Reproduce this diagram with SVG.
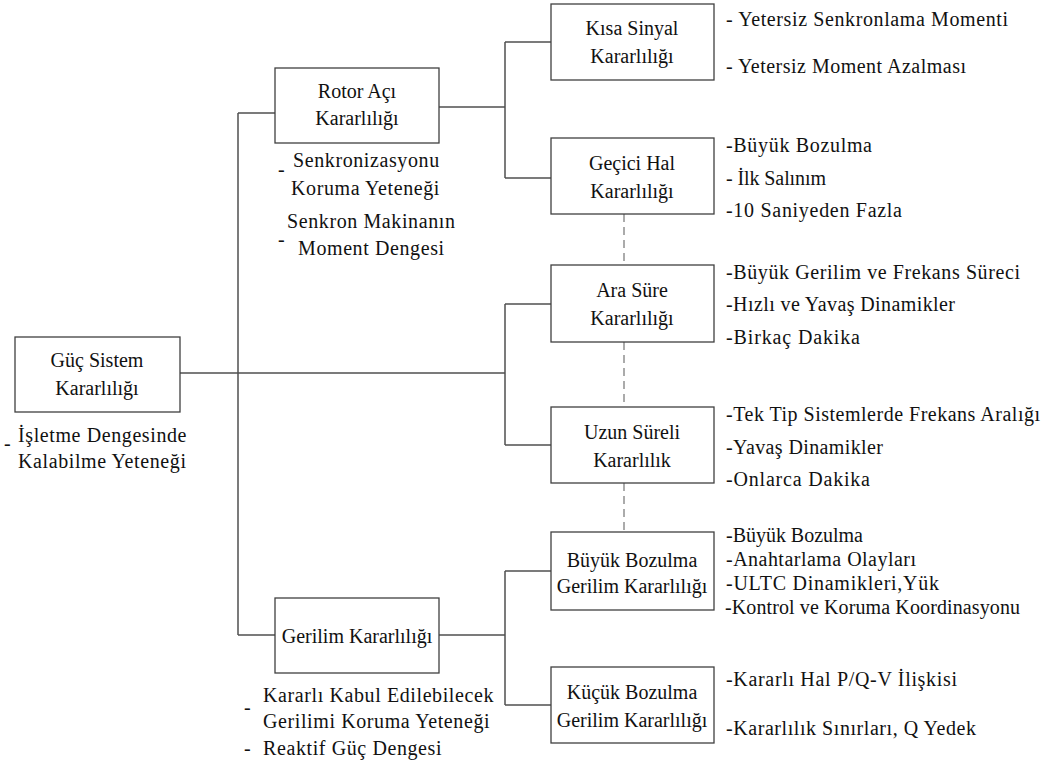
<svg xmlns="http://www.w3.org/2000/svg" width="1053" height="765" viewBox="0 0 1053 765">
<style>
.box{fill:#fff;stroke:#404040;stroke-width:1.3}
.ln{fill:none;stroke:#505050;stroke-width:1.5}
.dash{fill:none;stroke:#909090;stroke-width:1.5;stroke-dasharray:8 5}
text{font-family:"Liberation Serif","Times New Roman",serif;font-size:20px;fill:#111}
.c{text-anchor:middle}
.n{letter-spacing:0.6px}
</style>
<rect width="1053" height="765" fill="#fff"/>
<g id="connectors">
<path class="ln" d="M180 373H505M238 113V635M238 113H275M238 635H275"/>
<path class="ln" d="M439 107H505M505 42V178M505 42H551M505 178H551"/>
<path class="ln" d="M505 304V445M505 304H551M505 445H551"/>
<path class="ln" d="M439 635H505M505 571V705M505 571H551M505 705H551"/>
<path class="dash" d="M624 214V265M624 342V407M624 483V532"/>
</g>
<g id="guc">
<rect class="box" x="15" y="337" width="165" height="75"/>
<text class="c" x="97" y="367">Güç Sistem</text>
<text class="c" x="97" y="395">Kararlılığı</text>
<text x="4" y="450">-</text>
<text class="n" x="18" y="442">İşletme Dengesinde</text>
<text class="n" x="18" y="468">Kalabilme Yeteneği</text>
</g>
<g id="rotor">
<rect class="box" x="275" y="68" width="164" height="75"/>
<text class="c" x="357" y="98">Rotor Açı</text>
<text class="c" x="357" y="125">Kararlılığı</text>
<text x="278" y="176">-</text>
<text class="n" x="293" y="167">Senkronizasyonu</text>
<text class="n" x="291" y="195">Koruma Yeteneği</text>
<text x="278" y="246">-</text>
<text class="n" x="287" y="228">Senkron Makinanın</text>
<text class="n" x="298" y="255">Moment Dengesi</text>
</g>
<g id="gerilim">
<rect class="box" x="275" y="598" width="164" height="75"/>
<text class="c" x="357" y="643">Gerilim Kararlılığı</text>
<text x="244" y="714">-</text>
<text class="n" x="263" y="702">Kararlı Kabul Edilebilecek</text>
<text class="n" x="263" y="728">Gerilimi Koruma Yeteneği</text>
<text x="244" y="755">-</text>
<text class="n" x="263" y="755">Reaktif Güç Dengesi</text>
</g>
<g id="kisa">
<rect class="box" x="551" y="4" width="163" height="76"/>
<text class="c" x="632" y="35">Kısa Sinyal</text>
<text class="c" x="632" y="63">Kararlılığı</text>
<text x="726" y="26" textLength="282" lengthAdjust="spacing">- Yetersiz Senkronlama Momenti</text>
<text x="726" y="73" textLength="240" lengthAdjust="spacing">- Yetersiz Moment Azalması</text>
</g>
<g id="gecici">
<rect class="box" x="551" y="138" width="163" height="76"/>
<text class="c" x="632" y="170">Geçici Hal</text>
<text class="c" x="632" y="198">Kararlılığı</text>
<text x="726" y="152" textLength="146" lengthAdjust="spacing">-Büyük Bozulma</text>
<text x="726" y="185" textLength="100" lengthAdjust="spacing">- İlk Salınım</text>
<text x="726" y="217" textLength="176" lengthAdjust="spacing">-10 Saniyeden Fazla</text>
</g>
<g id="ara">
<rect class="box" x="551" y="265" width="163" height="77"/>
<text class="c" x="632" y="297">Ara Süre</text>
<text class="c" x="632" y="325">Kararlılığı</text>
<text x="726" y="279" textLength="294" lengthAdjust="spacing">-Büyük Gerilim ve Frekans Süreci</text>
<text x="726" y="311" textLength="229" lengthAdjust="spacing">-Hızlı ve Yavaş Dinamikler</text>
<text x="726" y="344" textLength="134" lengthAdjust="spacing">-Birkaç Dakika</text>
</g>
<g id="uzun">
<rect class="box" x="551" y="407" width="163" height="76"/>
<text class="c" x="632" y="439">Uzun Süreli</text>
<text class="c" x="632" y="467">Kararlılık</text>
<text x="726" y="421" textLength="314" lengthAdjust="spacing">-Tek Tip Sistemlerde Frekans Aralığı</text>
<text x="726" y="454" textLength="157" lengthAdjust="spacing">-Yavaş Dinamikler</text>
<text x="726" y="486" textLength="144" lengthAdjust="spacing">-Onlarca Dakika</text>
</g>
<g id="buyuk">
<rect class="box" x="551" y="532" width="163" height="78"/>
<text class="c" x="632" y="567">Büyük Bozulma</text>
<text class="c" x="632" y="593">Gerilim Kararlılığı</text>
<text x="726" y="542" textLength="137" lengthAdjust="spacing">-Büyük Bozulma</text>
<text x="726" y="566" textLength="190" lengthAdjust="spacing">-Anahtarlama Olayları</text>
<text x="726" y="590" textLength="213" lengthAdjust="spacing">-ULTC Dinamikleri,Yük</text>
<text x="725" y="614" textLength="295" lengthAdjust="spacing">-Kontrol ve Koruma Koordinasyonu</text>
</g>
<g id="kucuk">
<rect class="box" x="551" y="667" width="163" height="76"/>
<text class="c" x="632" y="699">Küçük Bozulma</text>
<text class="c" x="632" y="727">Gerilim Kararlılığı</text>
<text x="726" y="686" textLength="231" lengthAdjust="spacing">-Kararlı Hal P/Q-V İlişkisi</text>
<text x="726" y="735" textLength="250" lengthAdjust="spacing">-Kararlılık Sınırları, Q Yedek</text>
</g>
</svg>
